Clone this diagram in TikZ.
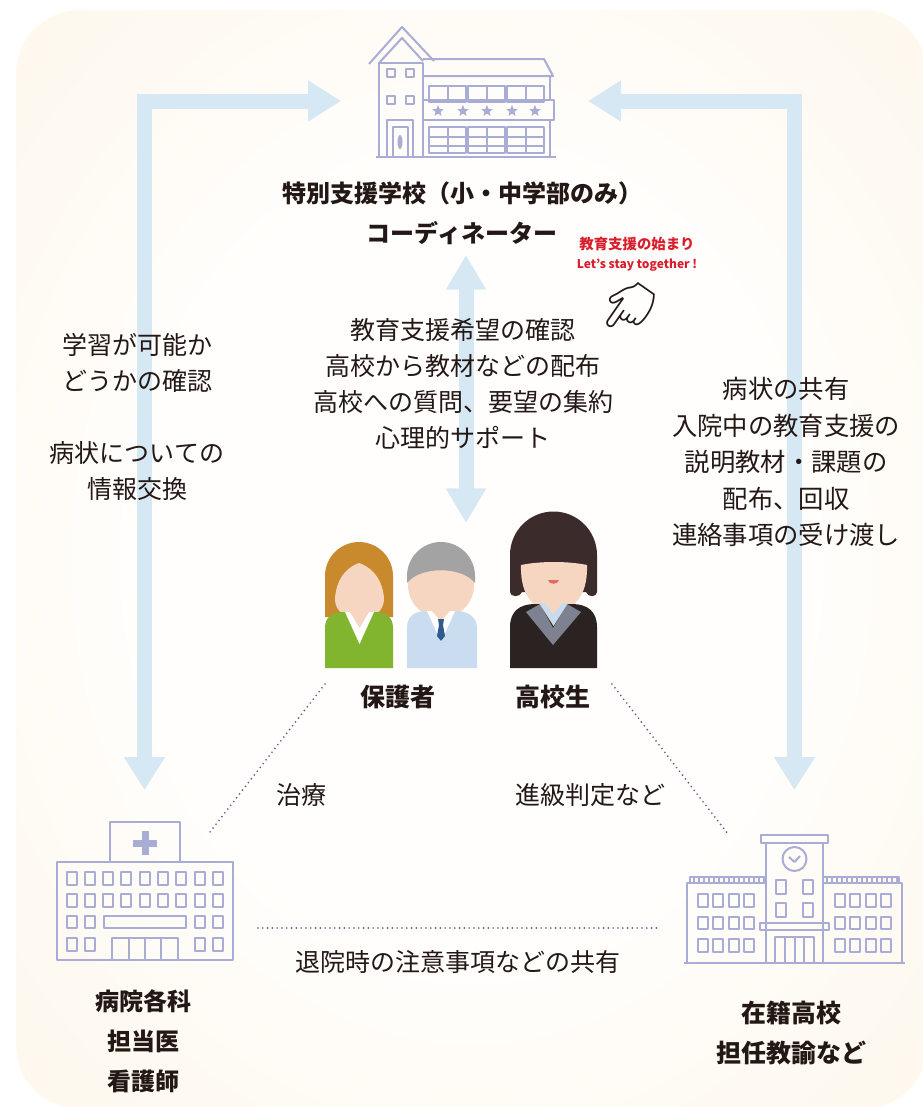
\documentclass[tikz,border=0pt]{standalone}
\usepackage{fontspec}
\setmainfont{Noto Sans CJK JP}
\newfontfamily\emojifont{Noto Emoji}
\usetikzlibrary{arrows.meta,shapes.geometric}

\definecolor{bgcream}{HTML}{FDF2DF}
\definecolor{bgwhite}{HTML}{FFFEFC}
\definecolor{flow}{HTML}{D7E8F5}
\definecolor{bldg}{HTML}{A9ADD6}
\definecolor{dotc}{HTML}{5A5A90}
\definecolor{redtxt}{HTML}{D81E2C}
\definecolor{ink}{HTML}{231815}
\definecolor{skin}{HTML}{F7D6C1}
\definecolor{hairW}{HTML}{C98A2E}
\definecolor{sweater}{HTML}{82B52F}
\definecolor{hairM}{HTML}{A3A3A3}
\definecolor{suit}{HTML}{CADCF0}
\definecolor{tie}{HTML}{2E5C8C}
\definecolor{hairS}{HTML}{3B2B2B}
\definecolor{jacket}{HTML}{2B2321}
\definecolor{lapel}{HTML}{7E8290}
\definecolor{shirt}{HTML}{C8DCEB}
\definecolor{lips}{HTML}{E06B5F}

\pgfdeclareradialshading{bgglow}{\pgfpoint{0bp}{0bp}}{color(0bp)=(bgwhite); color(18bp)=(bgwhite); color(50bp)=(bgcream)}

\tikzset{
  flowarrow/.style={draw=flow, line width=11.25pt,
    {Triangle[width=29.25pt,length=24.75pt]}-{Triangle[width=29.25pt,length=24.75pt]}},
  bline/.style={draw=bldg, line width=1.5pt, line join=round},
  dotline/.style={draw=dotc, line width=1.4pt, line cap=round, dash pattern=on 0pt off 3.6pt},
  body/.style={font=\fontsize{18.75pt}{27pt}\selectfont, text=ink, align=center, inner sep=0pt},
  head/.style={font=\fontsize{18pt}{30pt}\selectfont\bfseries, text=ink, align=center, inner sep=0pt},
  redlbl/.style={text=redtxt, inner sep=0pt, font=\bfseries},
}

\begin{document}
\begin{tikzpicture}[x=0.75pt,y=-0.75pt]
\useasboundingbox (0,0) rectangle (923,1107);

% soft rounded backdrop
\shade[shading=bgglow, rounded corners=48pt] (16,10) rectangle (927,1109);

% ---------- anchor points of the flow arrows ----------
\coordinate (schoolInL) at (341,101);
\coordinate (schoolInR) at (588,101);
\coordinate (hospIn) at (144.5,790);
\coordinate (highIn) at (794.5,790);
\coordinate (coordOut) at (466,255);
\coordinate (familyIn) at (466,523);

\draw[flowarrow] (schoolInL) -| (hospIn);
\draw[flowarrow] (schoolInR) -| (highIn);
\draw[flowarrow, {Triangle[width=28.5pt,length=26pt]}-{Triangle[width=28.5pt,length=26pt]}] (coordOut) -- (familyIn);

% ---------- special needs school building ----------
\begin{scope}[bline]
  \draw (379,63) rectangle (423,157);
  \draw (369,64) -- (402,27) -- (434,61);
  \draw (379,63) -- (402,38) -- (423,61);
  \draw (423,59) -- (544,59) -- (553,76) -- (423,76);
  \draw (550,76) -- (550,100);
  \draw (550,120) -- (550,157);
  \foreach \gx in {429,468,507}{
    \draw (\gx,86) rectangle ++(37,16);
    \draw (\gx+18.5,86) -- ++(0,16);
    \draw (\gx,127) rectangle ++(37,26);
    \draw (\gx+18.5,127) -- ++(0,26);
    \draw (\gx,137) -- ++(37,0);
    \draw (\gx,146) -- ++(37,0);
  }
  \draw (423,100) rectangle (554,120);
  \draw (387,69) rectangle (395,77);
  \draw (406,69) rectangle (414,77);
  \draw (387,96) rectangle (395,104);
  \draw (406,96) rectangle (414,104);
  \draw (387,120) rectangle (413,157);
  \draw (393,127) rectangle (408,157);
  \draw (376,157) -- (556,157);
\end{scope}
\fill[bldg] (400,142) ellipse [x radius=2.5, y radius=7];
\foreach \sx in {438,463,487,512,535}
  \node[star, star points=5, star point ratio=2.3, fill=bldg, inner sep=0pt, minimum size=9pt] at (\sx,111) {};

% ---------- hospital building ----------
\begin{scope}[bline]
  \draw (110,862) -- (110,822) -- (180,822) -- (180,862);
  \draw (57,862) rectangle (233,960);
  \foreach \i in {0,...,8}{
    \draw (66.5+\i*18.33,872) rectangle ++(10,13);
    \draw (66.5+\i*18.33,894) rectangle ++(10,13);
  }
  \foreach \wx in {66.5,84.8,195.1,213.4}{
    \draw (\wx,916) rectangle ++(10,12);
    \draw (\wx,938) rectangle ++(10,13);
  }
  \draw (104,916) rectangle (186,928);
  \draw (112,960) -- (112,938) -- (178,938) -- (178,960);
  \draw (129,938) -- (129,960);
  \draw (145,938) -- (145,960);
  \draw (161,938) -- (161,960);
\end{scope}
\fill[bldg] (141.5,831) rectangle (148.5,855);
\fill[bldg] (133,839.5) rectangle (157,846.5);

% ---------- enrolled high school building ----------
\begin{scope}[bline]
  \draw (761,835) rectangle (828,843);
  \draw (766,843) rectangle (823,963);
  \draw (794.5,859) circle [radius=12];
  \draw (789,857) -- (794.5,862) -- (800,856);
  \draw (776,880) rectangle (786,894);
  \draw (803,880) rectangle (813,894);
  \draw (776,903) rectangle (786,917);
  \draw (803,903) rectangle (813,917);
  \draw (760,923) rectangle (829,930);
  \draw (775,963) -- (775,937) -- (814,937) -- (814,963);
  \draw (785,937) -- (785,963);
  \draw (794.5,937) -- (794.5,963);
  \draw (804,937) -- (804,963);
  \draw (687,963) -- (687,883) -- (766,883);
  \draw (823,883) -- (902,883) -- (902,963);
  \draw (690,883) -- (690,877) -- (766,877);
  \draw (823,877) -- (899,877) -- (899,883);
  \foreach \k in {0,...,14}{
    \draw[line width=0.9pt] (694+\k*5,877) -- ++(0,6);
    \draw[line width=0.9pt] (827+\k*5,877) -- ++(0,6);
  }
  \foreach \wx in {698,713.3,728.6,744,835,850.3,865.6,881}{
    \draw (\wx,894) rectangle ++(10,13);
    \draw (\wx,917) rectangle ++(10,12);
    \draw (\wx,939) rectangle ++(10,13);
  }
  \draw (684,963) -- (905,963);
\end{scope}

% ---------- guardians and student ----------
% mother
\fill[hairW] (325,617) -- (325,576) arc[start angle=180, end angle=360, radius=34] -- (393,617) -- cycle;
\fill[skin] (335,598) .. controls (337,575) and (350,566) .. (359,563)
  .. controls (368,566) and (382,575) .. (384,598)
  .. controls (384,614) and (372,617) .. (359.5,617)
  .. controls (347,617) and (335,614) .. (335,598) -- cycle;
\fill[sweater] (325,668) -- (325,628) .. controls (325,617) and (332,612) .. (344,612)
  -- (374,612) .. controls (386,612) and (393,617) .. (393,628) -- (393,668) -- cycle;
\fill[white] (345,612) -- (374,612) -- (359.5,644) -- cycle;
\fill[skin] (350,612) -- (369,612) -- (359.5,628) -- cycle;
% father
\fill[skin] (441,585) circle [radius=33];
\fill[hairM] (407,583) -- (407,576) arc[start angle=180, end angle=360, radius=34]
  -- (475,583) .. controls (462,566) and (420,566) .. (407,583) -- cycle;
\fill[suit] (407,668) -- (407,628) .. controls (407,617) and (414,611) .. (426,611)
  -- (456,611) .. controls (468,611) and (477,617) .. (477,628) -- (477,668) -- cycle;
\fill[white] (427,611) -- (455,611) -- (441,642) -- cycle;
\fill[skin] (432,611) -- (450,611) -- (441,621) -- cycle;
\fill[tie] (438,619) -- (444,619) -- (443,625) -- (445,636) -- (441,641) -- (437,636) -- (439,625) -- cycle;
% student
\fill[hairS] (510,592) -- (510,555) arc[start angle=180, end angle=360, radius=43.5] -- (597,592)
  .. controls (597,597) and (588,598) .. (586,592) -- (522,592) .. controls (520,598) and (510,597) .. (510,592) -- cycle;
\fill[skin] (543,598) rectangle (564,612);
\fill[skin] (521,565) .. controls (540,561) and (568,561) .. (587,565)
  .. controls (588,598) and (572,611) .. (554,611)
  .. controls (536,611) and (520,598) .. (521,565) -- cycle;
\fill[lips] (548,580) -- (559,580) .. controls (558,585) and (549,585) .. (548,580) -- cycle;
\fill[jacket] (510,668) -- (510,627) .. controls (510,611) and (520,604) .. (535,604)
  -- (572,604) .. controls (587,604) and (597,611) .. (597,627) -- (597,668) -- cycle;
\fill[lapel] (526,612) -- (540,604) -- (553,628) -- (553,645) -- cycle;
\fill[lapel] (581,612) -- (567,604) -- (553,628) -- (553,645) -- cycle;
\fill[shirt] (539,603) -- (568,603) -- (553.5,626) -- cycle;
\fill[skin] (545,603) -- (562,603) -- (553.5,614) -- cycle;

% ---------- labels ----------
\node[head] (school) at (462,193) {特別支援学校（小・中学部のみ）};
\node[head] (coord) at (462,233) {コーディネーター};
\node[redlbl, font=\fontsize{10.8pt}{12pt}\selectfont\bfseries] (startJ) at (637,244) {教育支援の始まり};
\node[redlbl, font=\fontsize{9pt}{11pt}\selectfont\bfseries] (startE) at (637,265) {Let's stay together !};
\node[font=\emojifont\fontsize{34pt}{34pt}\selectfont, rotate=55, text=ink, inner sep=0pt] (hand) at (628,308) {👈};

\node[body] (support) at (463,384) {教育支援希望の確認\\高校から教材などの配布\\高校への質問、要望の集約\\心理的サポート};
\node[body] (leftInfo) at (137,417) {学習が可能か\\どうかの確認\\[27pt]病状についての\\情報交換};
\node[body, font=\fontsize{19pt}{27.4pt}\selectfont] (rightInfo) at (786,462) {病状の共有\\入院中の教育支援の\\説明教材・課題の\\配布、回収\\連絡事項の受け渡し};

\node[head, font=\fontsize{18.75pt}{24pt}\selectfont\bfseries] (guardian) at (398,697) {保護者};
\node[head, font=\fontsize{18.75pt}{24pt}\selectfont\bfseries] (student) at (553,697) {高校生};

\node[body] (treat) at (301,795) {治療};
\node[body] (promo) at (590,795) {進級判定など};
\node[body] (discharge) at (458,962) {退院時の注意事項などの共有};

\node[head] (hosp) at (143,1041) {病院各科\\担当医\\看護師};
\node[head, font=\fontsize{18.75pt}{30pt}\selectfont\bfseries] (high) at (791,1033) {在籍高校\\担任教諭など};

% ---------- dotted links ----------
\coordinate (famL) at (325,684);
\coordinate (hospR) at (210,832);
\coordinate (famR) at (612,684);
\coordinate (highL) at (728,834);
\coordinate (hospE) at (258,928);
\coordinate (highW) at (660,928);
\draw[dotline] (famL) -- (hospR);
\draw[dotline] (famR) -- (highL);
\draw[dotline] (hospE) -- (highW);
\end{tikzpicture}
\end{document}
